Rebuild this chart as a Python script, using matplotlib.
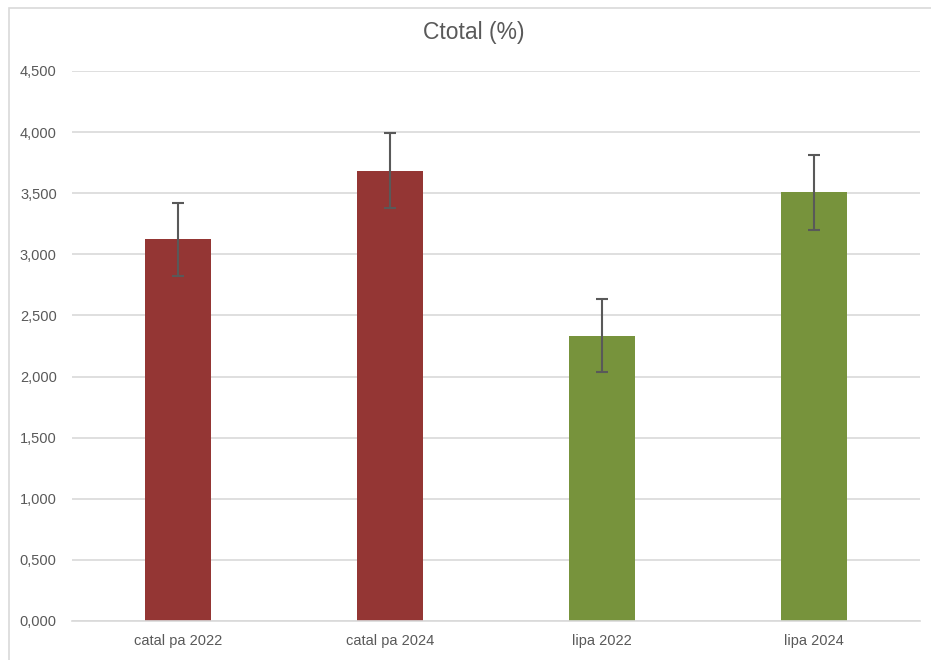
import matplotlib
matplotlib.use("Agg")
import matplotlib.pyplot as plt
from matplotlib.patches import Rectangle

categories = ["catal pa 2022", "catal pa 2024", "lipa 2022", "lipa 2024"]
values = [3.123, 3.685, 2.335, 3.508]
errors = [0.30, 0.305, 0.30, 0.305]
colors = ["#943634", "#943634", "#77933C", "#77933C"]
y_ticks = [0, 0.5, 1.0, 1.5, 2.0, 2.5, 3.0, 3.5, 4.0, 4.5]

plt.rcParams['font.family'] = ['Liberation Sans', 'DejaVu Sans']

fig = plt.figure(figsize=(9.31, 6.60), dpi=100)
ax = fig.add_axes([72 / 931, 1 - 621 / 660, 848 / 931, 550 / 660])

# chart frame (left and top edges visible)
fig.patches.append(Rectangle((9 / 931, -0.1), 1.2, 1 - 8 / 660 + 0.1, transform=fig.transFigure,
                             fill=False, edgecolor="#D9D9D9", linewidth=1.2))

x = range(len(categories))
ax.bar(x, values, width=0.316, color=colors, zorder=2)
ax.errorbar(x, values, yerr=errors, fmt="none", ecolor="#595959", elinewidth=1.5,
            capsize=4, capthick=1.5, zorder=3)

ax.set_xlim(-0.5, 3.5)
ax.set_ylim(0, 4.5)
ax.set_yticks(y_ticks)
ax.set_yticklabels([f"{v:.3f}".replace(".", ",") for v in y_ticks],
                   fontsize=10.5, color="#595959")
ax.set_xticks(list(x))
ax.set_xticklabels(categories, fontsize=10.5, color="#595959")
ax.tick_params(axis="both", length=0)
ax.tick_params(axis="y", pad=11)
ax.tick_params(axis="x", pad=9)

ax.grid(axis="y", color="#D9D9D9", linewidth=1.2, zorder=0)
for s in ["top", "right", "left"]:
    ax.spines[s].set_visible(False)
ax.spines["bottom"].set_color("#D9D9D9")
ax.spines["bottom"].set_linewidth(1.2)

fig.text(474 / 931, 1 - 32 / 660, "Ctotal (%)", ha="center", va="center",
         fontsize=16.5, color="#595959")

fig.savefig("out.png", dpi=100)
